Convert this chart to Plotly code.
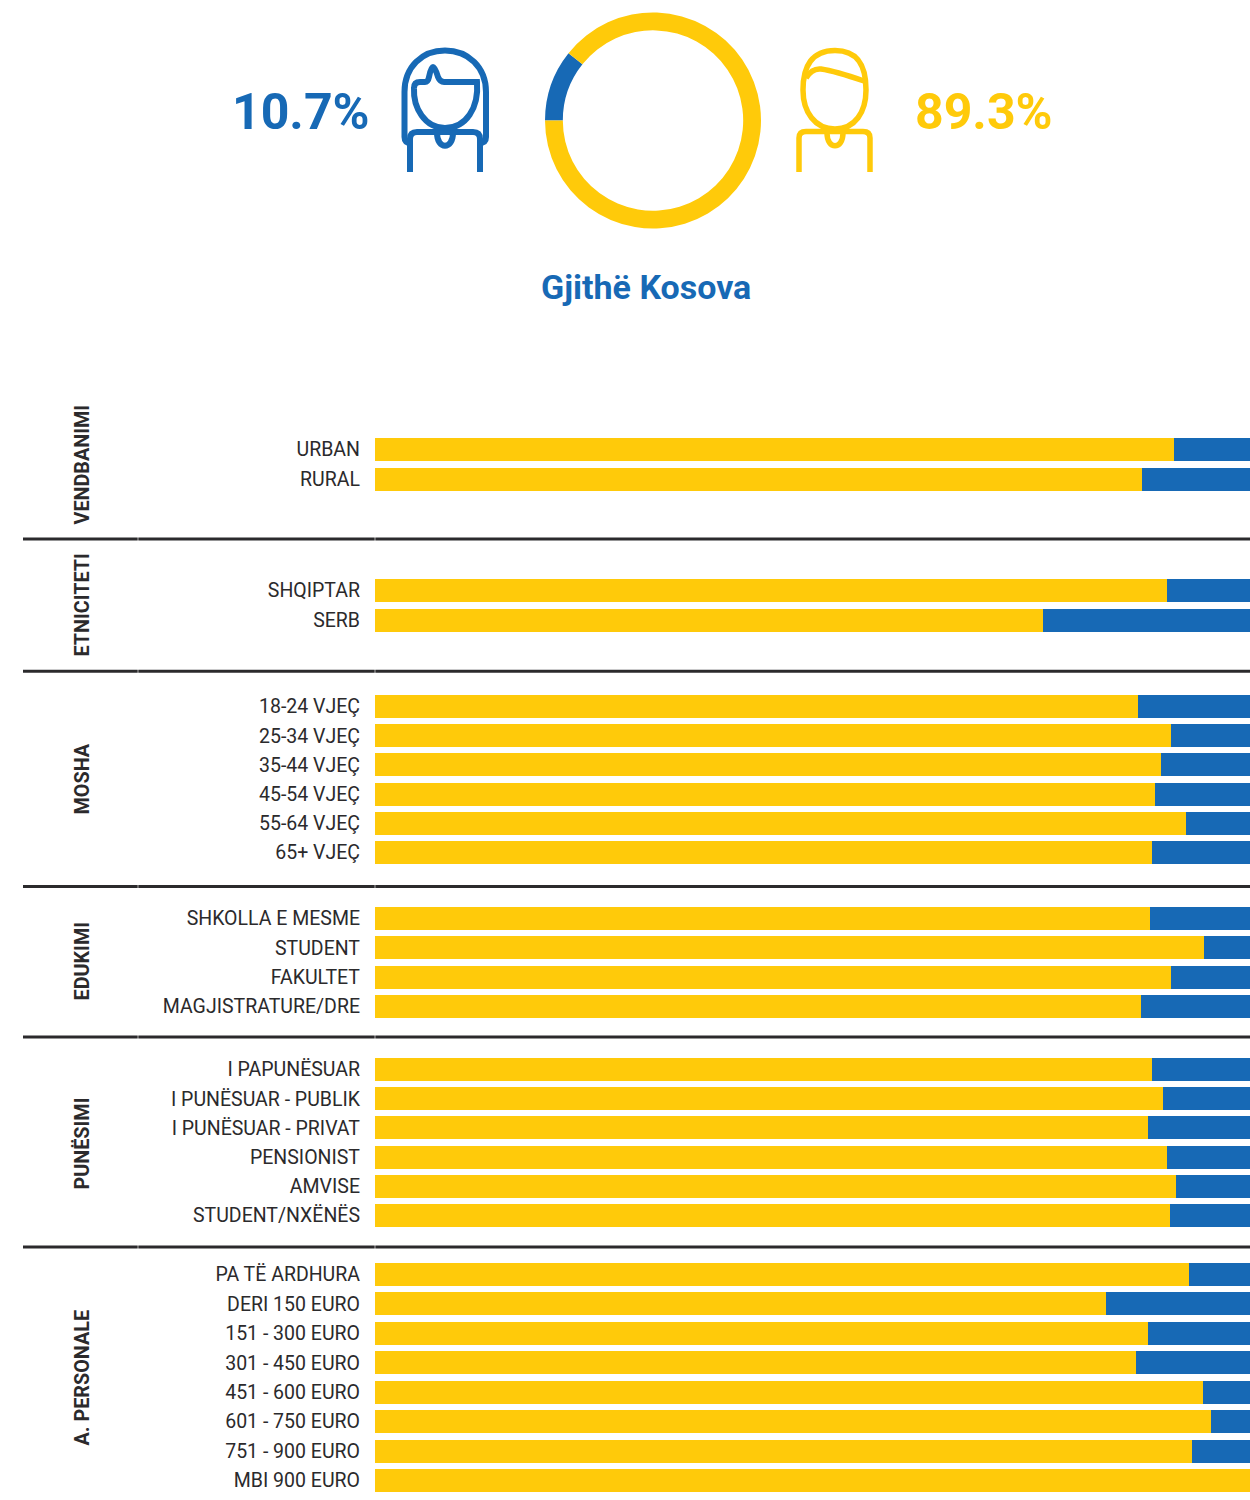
import plotly.graph_objects as go

W, H = 1250, 1500
YELLOW = "#FFCA0A"
BLUE = "#1769B5"
INK = "#2B2A2C"
LABEL_FONT = "Roboto"

# ---- data -------------------------------------------------------------
share_women = 10.7
share_men = 89.3

vendbanimi_labels = ["URBAN", "RURAL"]
vendbanimi_men = [91.3, 87.7]

etniciteti_labels = ["SHQIPTAR", "SERB"]
etniciteti_men = [90.5, 76.3]

mosha_labels = ["18-24 VJEÇ", "25-34 VJEÇ", "35-44 VJEÇ", "45-54 VJEÇ", "55-64 VJEÇ", "65+ VJEÇ"]
mosha_men = [87.2, 91.0, 89.8, 89.1, 92.7, 88.8]

edukimi_labels = ["SHKOLLA E MESME", "STUDENT", "FAKULTET", "MAGJISTRATURE/DRE"]
edukimi_men = [88.6, 94.7, 91.0, 87.5]

punesimi_labels = ["I PAPUNËSUAR", "I PUNËSUAR - PUBLIK", "I PUNËSUAR - PRIVAT", "PENSIONIST", "AMVISE", "STUDENT/NXËNËS"]
punesimi_men = [88.8, 90.1, 88.3, 90.5, 91.5, 90.9]

personale_labels = ["PA TË ARDHURA", "DERI 150 EURO", "151 - 300 EURO", "301 - 450 EURO",
                    "451 - 600 EURO", "601 - 750 EURO", "751 - 900 EURO", "MBI 900 EURO"]
personale_men = [93.0, 83.5, 88.3, 87.0, 94.6, 95.5, 93.4, 100.0]

# (title, labels, values, first bar centre px, last bar centre px, title centre px)
groups = [
    ("VENDBANIMI", vendbanimi_labels, vendbanimi_men, 449.5, 479.5, 464),
    ("ETNICITETI", etniciteti_labels, etniciteti_men, 590.5, 620.5, 605),
    ("MOSHA", mosha_labels, mosha_men, 706.5, 852.5, 779),
    ("EDUKIMI", edukimi_labels, edukimi_men, 918.5, 1006.5, 961),
    ("PUNËSIMI", punesimi_labels, punesimi_men, 1069.5, 1215.5, 1143),
    ("A. PERSONALE", personale_labels, personale_men, 1274.5, 1480.5, 1377),
]
separators_y = [539, 671.2, 886.5, 1037, 1247]


def fx(x):
    return x / W


def fy(y):
    return 1 - y / H


def path(cmds):
    """Convert a list of (command, x, y, x, y...) in page pixels to a paper path."""
    out = []
    for c in cmds:
        nums = c[1:]
        pts = [f"{fx(nums[i]):.5f},{fy(nums[i + 1]):.5f}" for i in range(0, len(nums), 2)]
        out.append(c[0] + " " + " ".join(pts))
    return " ".join(out)


fig = go.Figure()
layout = dict(
    width=W, height=H, autosize=False,
    margin=dict(l=0, r=0, t=0, b=0),
    paper_bgcolor="white", plot_bgcolor="white",
    showlegend=False, barmode="stack",
    bargroupgap=0,
)

shapes = []
annotations = []

for i, (title, labels, men, c0, c1, ty) in enumerate(groups):
    n = len(labels)
    step = (c1 - c0) / (n - 1)
    top = c0 - step / 2
    bottom = c1 + step / 2
    xname = "x" if i == 0 else f"x{i + 1}"
    yname = "y" if i == 0 else f"y{i + 1}"
    women = [round(100 - v, 1) for v in men]
    fig.add_trace(go.Bar(y=labels, x=men, orientation="h", marker=dict(color=YELLOW, line_width=0),
                         xaxis=xname, yaxis=yname, name="Burra", width=23 / step))
    fig.add_trace(go.Bar(y=labels, x=women, orientation="h", marker=dict(color=BLUE, line_width=0),
                         xaxis=xname, yaxis=yname, name="Gra", width=23 / step))
    xkey = "xaxis" if i == 0 else f"xaxis{i + 1}"
    ykey = "yaxis" if i == 0 else f"yaxis{i + 1}"
    layout[xkey] = dict(domain=[fx(375), 1], range=[0, 100], visible=False, fixedrange=True,
                        anchor=yname)
    layout[ykey] = dict(domain=[fy(bottom), fy(top)], range=[n - 0.5, -0.5], type="category",
                        categoryorder="array", categoryarray=labels, anchor=xname,
                        showgrid=False, zeroline=False, showline=False, ticks="",
                        ticklabelstandoff=14, automargin=False,
                        tickfont=dict(family=LABEL_FONT, size=19.5, color=INK))
    annotations.append(dict(text=title, xref="paper", yref="paper", x=fx(81.5), y=fy(ty),
                            xanchor="center", yanchor="middle", textangle=-90, showarrow=False,
                            font=dict(family=LABEL_FONT, size=19.8, color=INK, weight="bold")))

# donut
fig.add_trace(go.Pie(values=[share_women, share_men], labels=["Gra", "Burra"],
                     marker=dict(colors=[BLUE, YELLOW], line=dict(width=0)),
                     hole=0.835, sort=False, direction="clockwise", rotation=270,
                     textinfo="none", showlegend=False,
                     domain=dict(x=[fx(545), fx(761)], y=[fy(228.5), fy(12.5)])))

# headline texts
annotations += [
    dict(text=f"{share_women}%", xref="paper", yref="paper", x=fx(372), y=fy(112), xanchor="right",
         yanchor="middle", showarrow=False, font=dict(family=LABEL_FONT, size=50, color=BLUE, weight="bold")),
    dict(text=f"{share_men}%", xref="paper", yref="paper", x=fx(913), y=fy(112), xanchor="left",
         yanchor="middle", showarrow=False, font=dict(family=LABEL_FONT, size=50, color=YELLOW, weight="bold")),
    dict(text="Gjithë Kosova", xref="paper", yref="paper", x=fx(646), y=fy(287), xanchor="center",
         yanchor="middle", showarrow=False, font=dict(family=LABEL_FONT, size=34, color=BLUE, weight="bold")),
]

# separators
for y in separators_y:
    for a, b in [(23, 137.7), (138.3, 374.7), (375.3, 1250)]:
        shapes.append(dict(type="line", xref="paper", yref="paper", x0=fx(a), x1=fx(b), y0=fy(y), y1=fy(y),
                           line=dict(color=INK, width=3)))

# icons
female = [
    [("M", 411, 143), ("Q", 404.5, 143, 404.5, 137), ("L", 404.5, 92),
     ("C", 404.5, 67, 422, 50.5, 445, 50.5), ("C", 468, 50.5, 486, 67, 486, 92), ("L", 486, 137),
     ("Q", 486, 143, 479, 143)],
    [("M", 410, 172), ("L", 410, 139), ("Q", 410, 132, 417, 132), ("L", 473, 132),
     ("Q", 480, 132, 480, 139), ("L", 480, 172)],
    [("M", 414, 88), ("Q", 414, 82, 420, 82), ("L", 425, 82), ("Q", 428, 82, 429, 77),
     ("Q", 431, 67, 433, 67), ("Q", 435, 67, 438, 77), ("Q", 440, 82, 444, 82), ("L", 477, 82),
     ("C", 479, 108, 466, 128, 445, 128), ("C", 425, 128, 413, 108, 414, 88)],
    [("M", 437, 133), ("C", 437, 150, 453, 150, 453, 133)],
]
male = [
    [("M", 835, 50.5), ("C", 858, 50.5, 866, 66, 866, 90), ("C", 866, 112, 855, 129, 835, 129),
     ("C", 815, 129, 803, 112, 803, 90), ("C", 803, 66, 812, 50.5, 835, 50.5)],
    [("M", 806, 78), ("Q", 812, 68, 821, 69), ("Q", 835, 71, 864, 81)],
    [("M", 799, 172), ("L", 799, 138), ("Q", 799, 131.5, 806, 131.5), ("L", 863, 131.5),
     ("Q", 870, 131.5, 870, 138), ("L", 870, 172)],
    [("M", 827, 133), ("C", 827, 150, 843, 150, 843, 133)],
]
for parts, color, lw in [(female, BLUE, 6), (male, YELLOW, 5.5)]:
    for p in parts:
        shapes.append(dict(type="path", xref="paper", yref="paper", path=path(p),
                           line=dict(color=color, width=lw), fillcolor="rgba(0,0,0,0)"))

layout["shapes"] = shapes
layout["annotations"] = annotations
fig.update_layout(**layout)
fig.write_html("out.html", config={"displayModeBar": False},
               post_script="document.body.style.margin='0';document.body.style.padding='0';")
